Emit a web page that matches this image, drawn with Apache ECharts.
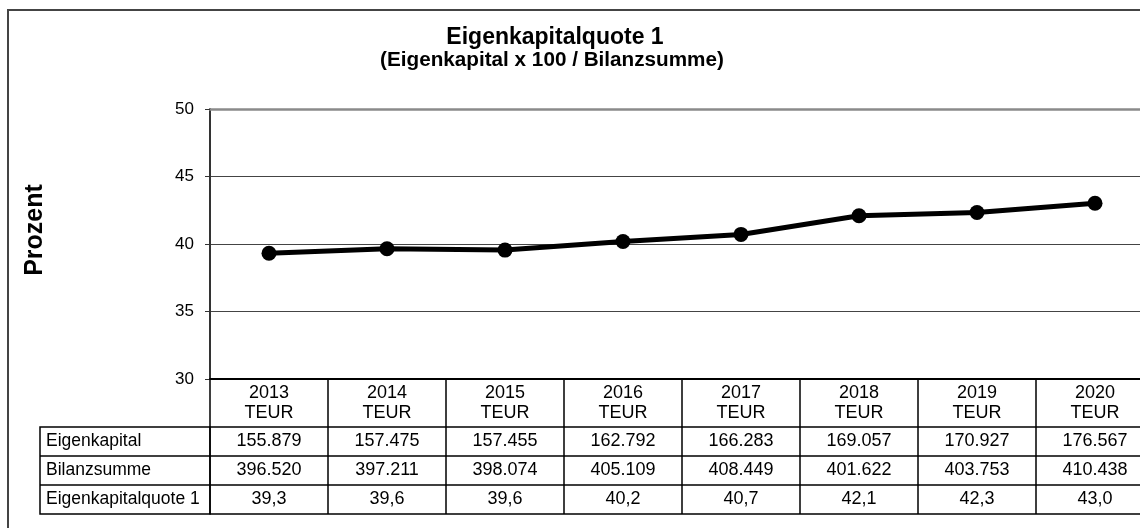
<!DOCTYPE html>
<html>
<head>
<meta charset="utf-8">
<script src="https://cdn.jsdelivr.net/npm/echarts@6/dist/echarts.min.js"></script>
<style>
  html, body { margin: 0; padding: 0; background: #fff; overflow: hidden; }
  /* the plot runs past the right edge of the window, as in the reference */
  #chart { width: 1170px; height: 528px; }
</style>
</head>
<body>
<div id="chart"></div>
<script>
  // values
  const years = ['2013', '2014', '2015', '2016', '2017', '2018', '2019', '2020'];
  const eigenkapital = ['155.879', '157.475', '157.455', '162.792', '166.283', '169.057', '170.927', '176.567'];
  const bilanzsumme = ['396.520', '397.211', '398.074', '405.109', '408.449', '401.622', '403.753', '410.438'];
  const quoteLabels = ['39,3', '39,6', '39,6', '40,2', '40,7', '42,1', '42,3', '43,0'];
  const quote = [39.31, 39.65, 39.55, 40.19, 40.71, 42.09, 42.33, 43.02];
  const rowNames = ['Eigenkapital', 'Bilanzsumme', 'Eigenkapitalquote 1'];
  const yTicks = [30, 35, 40, 45, 50];

  const font = '"Liberation Sans", Arial, sans-serif';
  const plotLeft = 210, plotTop = 109, plotBottom = 379, plotWidth = 944;
  const rowOffsets = [48, 77, 106, 135]; // table lines below the plot
  const tableLeft = 40;

  const chart = echarts.init(document.getElementById('chart'));

  // one extra x axis per table row: its line, ticks and labels make the cells
  const rowAxes = [eigenkapital, bilanzsumme, quoteLabels].map((vals, i) => ({
    type: 'category',
    data: years,
    position: 'bottom',
    offset: rowOffsets[i],
    axisLine: { onZero: false, lineStyle: { color: '#000', width: 1.5 } },
    axisTick: { show: true, length: rowOffsets[i + 1] - rowOffsets[i], lineStyle: { color: '#000', width: 1.5 } },
    axisLabel: {
      margin: 4.5, fontSize: 18, lineHeight: 20, color: '#000', fontFamily: font,
      formatter: (v, idx) => vals[idx]
    }
  }));

  const graphics = [
    // outer frame
    { type: 'rect', shape: { x: 8, y: 10, width: 1300, height: 700 },
      style: { fill: 'none', stroke: '#444', lineWidth: 2 }, silent: true },
    { type: 'text', x: 555, y: 38,
      style: { text: 'Eigenkapitalquote 1', font: 'bold 23px ' + font, fill: '#000',
               textAlign: 'center', textVerticalAlign: 'middle' } },
    { type: 'text', x: 552, y: 60,
      style: { text: '(Eigenkapital x 100 / Bilanzsumme)', font: 'bold 20.7px ' + font, fill: '#000',
               textAlign: 'center', textVerticalAlign: 'middle' } },
    { type: 'text', x: 35, y: 230, rotation: Math.PI / 2,
      style: { text: 'Prozent', font: 'bold 25px ' + font, fill: '#000',
               textAlign: 'center', textVerticalAlign: 'middle' } },
    // left column of the table
    { type: 'rect', shape: { x: tableLeft, y: plotBottom + rowOffsets[0], width: plotLeft - tableLeft, height: rowOffsets[3] - rowOffsets[0] },
      style: { fill: 'none', stroke: '#000', lineWidth: 1.5 } }
  ];
  rowNames.forEach((name, i) => {
    if (i > 0) {
      graphics.push({ type: 'line',
        shape: { x1: tableLeft, y1: plotBottom + rowOffsets[i], x2: plotLeft, y2: plotBottom + rowOffsets[i] },
        style: { stroke: '#000', lineWidth: 1.5 } });
    }
    graphics.push({ type: 'text', x: tableLeft + 6, y: plotBottom + (rowOffsets[i] + rowOffsets[i + 1]) / 2,
      style: { text: name, font: '17.5px ' + font, fill: '#000', textVerticalAlign: 'middle' } });
  });

  chart.setOption({
    animation: false,
    backgroundColor: '#fff',
    grid: { left: plotLeft, top: plotTop, width: plotWidth, height: plotBottom - plotTop },
    xAxis: [
      {
        type: 'category',
        data: years,
        position: 'bottom',
        axisLine: { onZero: false, lineStyle: { color: '#000', width: 2 } },
        axisTick: { show: true, length: rowOffsets[0], lineStyle: { color: '#000', width: 1.5 } },
        axisLabel: {
          margin: 4.5, fontSize: 18, lineHeight: 19.5, color: '#000', fontFamily: font,
          formatter: v => v + '\nTEUR'
        }
      },
      ...rowAxes,
      {
        type: 'category', data: years, position: 'bottom', offset: rowOffsets[3],
        axisLine: { onZero: false, lineStyle: { color: '#000', width: 1.5 } },
        axisTick: { show: false }, axisLabel: { show: false }
      },
      {
        type: 'category', data: years, position: 'top',
        axisLine: { onZero: false, lineStyle: { color: '#8a8a8a', width: 2.5 } },
        axisTick: { show: false }, axisLabel: { show: false }
      }
    ],
    yAxis: {
      type: 'value',
      min: yTicks[0],
      max: yTicks[yTicks.length - 1],
      interval: yTicks[1] - yTicks[0],
      axisLine: { show: true, lineStyle: { color: '#333', width: 2 } },
      axisTick: { show: true, length: 5, lineStyle: { color: '#333' } },
      axisLabel: { margin: 16, fontSize: 17, color: '#000', fontFamily: font },
      splitLine: { show: true, lineStyle: { color: '#444', width: 1 } }
    },
    series: [{
      type: 'line',
      xAxisIndex: 0,
      data: quote,
      symbol: 'circle',
      symbolSize: 15,
      lineStyle: { color: '#000', width: 5 },
      itemStyle: { color: '#000' },
      z: 10
    }],
    graphic: graphics
  });
</script>
</body>
</html>
